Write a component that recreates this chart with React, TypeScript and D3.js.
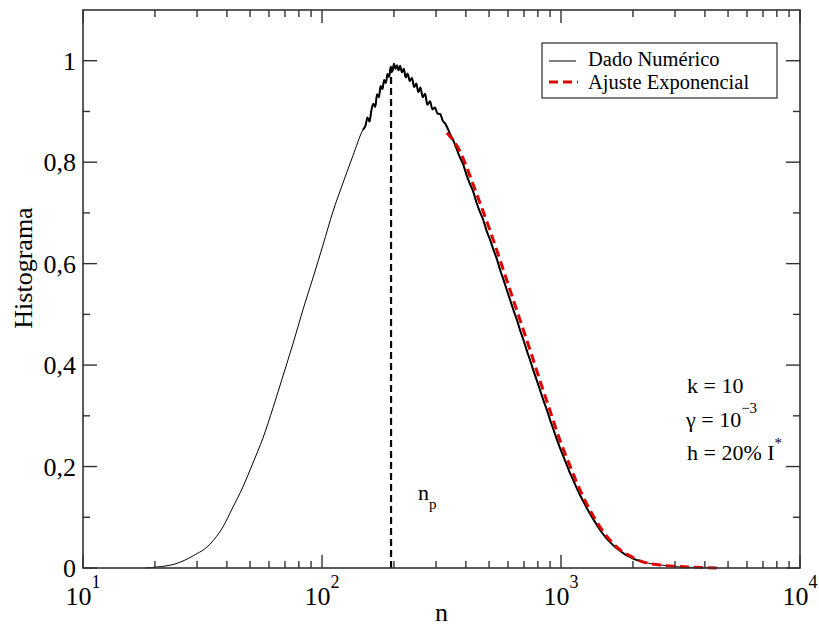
import React from "react";
import * as d3 from "d3";

// Numerical histogram
const numN = [
  18.2, 20.4, 24.3, 28.9, 34.0, 38.5, 42.4, 46.7, 51.4, 56.6, 62.4, 68.7, 75.6, 83.2, 91.7, 101, 111, 122.4, 134.8, 148.4,
  152, 155, 158, 161, 164, 167, 170, 173, 176, 179, 182, 185, 188, 191, 194, 197, 200, 203, 206, 209, 212, 216, 220, 224,
  228, 233, 238, 243, 248, 253, 258, 264, 270, 276, 283, 290, 297, 304, 312, 320, 330, 343, 355, 366, 378, 390, 403, 416,
  430, 444, 458, 472, 488, 505, 522, 540, 556, 575, 595, 612, 633, 654, 674, 697, 720, 742, 767, 792, 817, 845, 872, 900,
  930, 960, 990, 1025, 1058, 1091, 1130, 1165, 1201, 1260, 1322, 1390, 1456, 1530, 1603, 1680, 1766, 1850, 1944, 2040,
  2141, 2350, 2596, 2850, 3148, 3700, 4500,
];
const numV = [
  0, 0.002, 0.008, 0.024, 0.047, 0.081, 0.12, 0.16, 0.207, 0.256, 0.316, 0.379, 0.442, 0.509, 0.572, 0.637, 0.702, 0.759, 0.813, 0.864,
  0.872, 0.888, 0.88, 0.903, 0.915, 0.909, 0.934, 0.928, 0.95, 0.944, 0.962, 0.956, 0.974, 0.968, 0.988, 0.979, 0.994, 0.984,
  0.991, 0.981, 0.99, 0.977, 0.984, 0.967, 0.975, 0.96, 0.966, 0.948, 0.955, 0.938, 0.947, 0.928, 0.935, 0.913, 0.92,
  0.904, 0.908, 0.896, 0.895, 0.882, 0.874, 0.856, 0.842, 0.826, 0.809, 0.795, 0.774, 0.757, 0.741, 0.719, 0.702, 0.687,
  0.665, 0.647, 0.627, 0.608, 0.588, 0.568, 0.546, 0.529, 0.508, 0.489, 0.469, 0.449, 0.428, 0.41, 0.389, 0.37, 0.351,
  0.33, 0.312, 0.292, 0.273, 0.254, 0.237, 0.219, 0.203, 0.187, 0.171, 0.157, 0.144, 0.125, 0.107, 0.09, 0.075, 0.062,
  0.051, 0.042, 0.034, 0.027, 0.022, 0.017, 0.014, 0.009, 0.006, 0.004, 0.002, 0.001, 0,
];

// Exponential fit
const fitN = [333, 378, 416, 458, 505, 556, 612, 674, 742, 817, 900, 990, 1091, 1201, 1322, 1456, 1603, 1766, 1944, 2141, 2596, 3465, 4716];
const fitV = [0.858, 0.821, 0.773, 0.72, 0.665, 0.607, 0.548, 0.489, 0.43, 0.369, 0.31, 0.252, 0.201, 0.154, 0.114, 0.081, 0.055, 0.036, 0.024, 0.014, 0.006, 0.002, 0];

const peakN = 194.5;
const yTicks = [0, 0.2, 0.4, 0.6, 0.8, 1];
const yTickLabels = ["0", "0,2", "0,4", "0,6", "0,8", "1"];
const yMinor = [0.1, 0.3, 0.5, 0.7, 0.9];
const xDecades = [1, 2, 3, 4];

const W = 819;
const H = 628;
const L = 83, R = 800, T = 10, B = 568;
const FONT = "'Liberation Serif', serif";

export default function App() {
  const x = d3.scaleLog().domain([10, 10000]).range([L, R]);
  const y = d3.scaleLinear().domain([0, 1.1]).range([B, T]);

  const pts = numN.map((n, i) => [n, numV[i]] as [number, number]);
  const fit = fitN.map((n, i) => [n, fitV[i]] as [number, number]);
  const line = d3
    .line<[number, number]>()
    .x((d) => x(d[0]))
    .y((d) => y(d[1]))
    .curve(d3.curveMonotoneX);

  const thick = pts.filter((d) => d[0] >= 140 && d[0] <= 2200);

  const xMinor: number[] = [];
  for (let e = 1; e < 4; e++) for (let m = 2; m <= 9; m++) xMinor.push(m * Math.pow(10, e));

  const axisColor = "#333";
  const ts = { fontFamily: FONT };
  return (
    <svg width={W} height={H} style={{ position: "absolute", left: 0, top: 0, background: "#fff", fontFamily: FONT }}>
      <rect x={0} y={0} width={W} height={H} fill="#fff" />
      <path d={line(pts) || ""} fill="none" stroke="#000" strokeWidth={1} />
      <path d={line(thick) || ""} fill="none" stroke="#000" strokeWidth={2} />
      <path d={line(fit) || ""} fill="none" stroke="#e00000" strokeWidth={3} strokeDasharray="9,5" />
      <line x1={x(peakN)} x2={x(peakN)} y1={y(0)} y2={y(0.985)} stroke="#000" strokeWidth={2.2} strokeDasharray="7,4" />

      <rect x={L} y={T} width={R - L} height={B - T} fill="none" stroke={axisColor} strokeWidth={1.6} />
      {yTicks.map((v) => (
        <g key={"y" + v}>
          <line x1={L} x2={L + 14} y1={y(v)} y2={y(v)} stroke={axisColor} strokeWidth={1.4} />
          <line x1={R} x2={R - 14} y1={y(v)} y2={y(v)} stroke={axisColor} strokeWidth={1.4} />
        </g>
      ))}
      {yMinor.map((v) => (
        <g key={"ym" + v}>
          <line x1={L} x2={L + 7} y1={y(v)} y2={y(v)} stroke={axisColor} strokeWidth={1.4} />
          <line x1={R} x2={R - 7} y1={y(v)} y2={y(v)} stroke={axisColor} strokeWidth={1.4} />
        </g>
      ))}
      {yTicks.map((v, i) => (
        <text key={"yl" + v} x={L - 7} y={y(v)} dy="0.35em" textAnchor="end" fontSize={26} fill="#000" style={ts}>
          {yTickLabels[i]}
        </text>
      ))}
      {xDecades.map((e) => {
        const px = x(Math.pow(10, e));
        return (
          <g key={"x" + e}>
            <line x1={px} x2={px} y1={B} y2={B - 13} stroke={axisColor} strokeWidth={1.4} />
            <line x1={px} x2={px} y1={T} y2={T + 13} stroke={axisColor} strokeWidth={1.4} />
            <text x={px} y={605} textAnchor="middle" fontSize={26} fill="#000" style={ts}>
              10
              <tspan dy={-17} fontSize={18}>{e}</tspan>
            </text>
          </g>
        );
      })}
      {xMinor.map((v) => (
        <g key={"xm" + v}>
          <line x1={x(v)} x2={x(v)} y1={B} y2={B - 7} stroke={axisColor} strokeWidth={1.4} />
          <line x1={x(v)} x2={x(v)} y1={T} y2={T + 7} stroke={axisColor} strokeWidth={1.4} />
        </g>
      ))}

      <text x={(L + R) / 2} y={621} textAnchor="middle" fontSize={26} fill="#000" style={ts}>n</text>
      <text transform={`translate(32,268) rotate(-90)`} textAnchor="middle" fontSize={26} fill="#000" style={ts}>Histograma</text>

      <rect x={542} y={43} width={235} height={55} fill="#fff" stroke="#000" strokeWidth={1} />
      <line x1={549} x2={576} y1={61} y2={61} stroke="#000" strokeWidth={1} />
      <line x1={549} x2={578} y1={82} y2={82} stroke="#e00000" strokeWidth={3} strokeDasharray="9,5" />
      <text x={588} y={65.5} fontSize={20.5} fill="#000" style={ts}>Dado Numérico</text>
      <text x={588} y={89} fontSize={20.5} fill="#000" style={ts}>Ajuste Exponencial</text>

      <text x={687} y={393} fontSize={22} fill="#000" style={ts}>k = 10</text>
      <text x={686} y={427} fontSize={22} fill="#000" style={ts}>
        γ = 10
        <tspan dy={-14} fontSize={15}>−3</tspan>
      </text>
      <text x={687} y={460} fontSize={22} fill="#000" style={ts}>
        h = 20% I
        <tspan dy={-12} fontSize={15}>*</tspan>
      </text>
      <text x={418} y={500} fontSize={22} fill="#000" style={ts}>
        n
        <tspan dy={9} fontSize={15}>p</tspan>
      </text>
    </svg>
  );
}
